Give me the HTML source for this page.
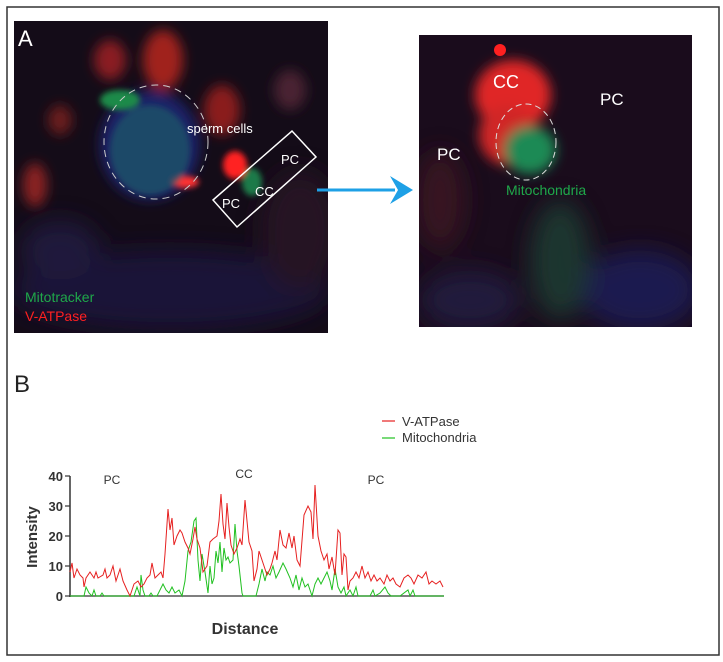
<!DOCTYPE html>
<html><head><meta charset="utf-8"><style>
body{margin:0;background:#fff;}
svg{display:block;font-family:"Liberation Sans",Arial,sans-serif;}
</style></head><body>
<svg width="723" height="662" viewBox="0 0 723 662" xmlns="http://www.w3.org/2000/svg">
<defs>
<filter id="b6" x="-50%" y="-50%" width="200%" height="200%"><feGaussianBlur stdDeviation="6"/></filter>
<filter id="b3" x="-50%" y="-50%" width="200%" height="200%"><feGaussianBlur stdDeviation="3"/></filter>
<filter id="b12" x="-50%" y="-50%" width="200%" height="200%"><feGaussianBlur stdDeviation="12"/></filter>
<clipPath id="cl"><rect x="14" y="21" width="314" height="312"/></clipPath>
<clipPath id="cr"><rect x="419" y="35" width="273" height="292"/></clipPath>
</defs>
<rect x="7" y="7" width="712" height="648" fill="#fff" stroke="#333" stroke-width="1.5"/>
<g clip-path="url(#cl)">
<rect x="14" y="21" width="314" height="312" fill="#140c18"/>
<g filter="url(#b12)" opacity="0.8">
<ellipse cx="170" cy="290" rx="160" ry="40" fill="#1b1840"/>
<ellipse cx="60" cy="250" rx="40" ry="30" fill="#201a45"/>
<ellipse cx="300" cy="230" rx="40" ry="60" fill="#2a1525"/>
</g>
<g filter="url(#b6)">
<ellipse cx="110" cy="60" rx="16" ry="20" fill="#8a1e22"/>
<ellipse cx="163" cy="60" rx="20" ry="30" fill="#a0201c"/>
<ellipse cx="222" cy="110" rx="18" ry="25" fill="#8a1a1a"/>
<ellipse cx="290" cy="90" rx="16" ry="20" fill="#4a2030"/>
<ellipse cx="60" cy="120" rx="12" ry="15" fill="#6a1a1a"/>
<ellipse cx="35" cy="185" rx="12" ry="22" fill="#8a2020"/>
<ellipse cx="150" cy="145" rx="50" ry="55" fill="#1a2468"/>
</g>
<g filter="url(#b3)">
<ellipse cx="235" cy="165" rx="12" ry="14" fill="#ff2020"/>
<ellipse cx="185" cy="182" rx="14" ry="6" fill="#ff3030"/>
<ellipse cx="150" cy="150" rx="40" ry="45" fill="#1c5a6a" opacity="0.7"/>
<ellipse cx="120" cy="100" rx="20" ry="10" fill="#1e8a48"/>
<ellipse cx="252" cy="182" rx="10" ry="14" fill="#1e7a4a"/>
</g>
<ellipse cx="156" cy="142" rx="52" ry="57" fill="none" stroke="#ccc" stroke-width="1" stroke-dasharray="7 5"/>
<text x="18" y="46" font-size="22" fill="#fff">A</text>
<text x="187" y="133" font-size="13" fill="#fff">sperm cells</text>
<polygon points="213,200 292,131 316,157 237,227" fill="none" stroke="#fff" stroke-width="1.5"/>
<text x="222" y="208" font-size="13" fill="#fff">PC</text>
<text x="255" y="196" font-size="13" fill="#fff">CC</text>
<text x="281" y="164" font-size="13" fill="#fff">PC</text>
<text x="25" y="302" font-size="14" fill="#1fa84a">Mitotracker</text>
<text x="25" y="321" font-size="14" fill="#ff2020">V-ATPase</text>
</g>
<line x1="317" y1="190" x2="395" y2="190" stroke="#1ea0e6" stroke-width="3"/>
<polygon points="390,176 413,190 390,204 398,190" fill="#1ea0e6"/>
<g clip-path="url(#cr)">
<rect x="419" y="35" width="273" height="292" fill="#1a0c1c"/>
<g filter="url(#b12)" opacity="0.9">
<ellipse cx="640" cy="290" rx="60" ry="40" fill="#1c1a55"/>
<ellipse cx="470" cy="300" rx="50" ry="30" fill="#221a40"/>
<ellipse cx="560" cy="260" rx="30" ry="60" fill="#1a3a30"/>
<ellipse cx="440" cy="200" rx="25" ry="50" fill="#3a1220"/>
</g>
<g filter="url(#b6)">
<ellipse cx="513" cy="95" rx="38" ry="35" fill="#e02828"/>
<ellipse cx="507" cy="135" rx="28" ry="30" fill="#d02626"/>
<ellipse cx="530" cy="150" rx="26" ry="24" fill="#1e8a55"/>
</g>
<circle cx="500" cy="50" r="6" fill="#ff2020"/>
<ellipse cx="526" cy="142" rx="30" ry="38" fill="none" stroke="#ddd" stroke-width="1" stroke-dasharray="6 4"/>
<text x="493" y="88" font-size="18" fill="#fff">CC</text>
<text x="600" y="105" font-size="17" fill="#fff">PC</text>
<text x="437" y="160" font-size="17" fill="#fff">PC</text>
<text x="506" y="195" font-size="14" fill="#1fa84a">Mitochondria</text>
</g>
<text x="14" y="392" font-size="24" fill="#222">B</text>
<line x1="382" y1="421" x2="395" y2="421" stroke="#e62020" stroke-width="1.2"/>
<line x1="382" y1="438" x2="395" y2="438" stroke="#20c020" stroke-width="1.2"/>
<text x="402" y="426" font-size="13" fill="#333">V-ATPase</text>
<text x="402" y="442" font-size="13" fill="#333">Mitochondria</text>
<line x1="70" y1="476" x2="70" y2="597" stroke="#333" stroke-width="1.5"/>
<line x1="69" y1="596" x2="444" y2="596" stroke="#555" stroke-width="1.5"/>
<g stroke="#333" stroke-width="1.2">
<line x1="65" y1="476" x2="70" y2="476"/><line x1="65" y1="506" x2="70" y2="506"/><line x1="65" y1="536" x2="70" y2="536"/><line x1="65" y1="566" x2="70" y2="566"/><line x1="65" y1="596" x2="70" y2="596"/>
</g>
<g font-size="13" font-weight="bold" fill="#333" text-anchor="end">
<text x="63" y="481">40</text><text x="63" y="511">30</text><text x="63" y="541">20</text><text x="63" y="571">10</text><text x="63" y="601">0</text>
</g>
<text transform="translate(37,537) rotate(-90)" font-size="15" font-weight="bold" fill="#333" text-anchor="middle">Intensity</text>
<text x="245" y="634" font-size="16" font-weight="bold" fill="#333" text-anchor="middle">Distance</text>
<text x="112" y="484" font-size="12" fill="#333" text-anchor="middle">PC</text>
<text x="244" y="478" font-size="12" fill="#333" text-anchor="middle">CC</text>
<text x="376" y="484" font-size="12" fill="#333" text-anchor="middle">PC</text>
<polyline fill="none" stroke="#20c020" stroke-width="1" points="70,596 84,596 86,587 89,593 92,596 94,590 96,596 100,596 102,593 104,596 130,596 134,596 137,587 140,596 141,575 143,590 145,596 149,596 151,593 153,596 157,596 160,590 163,584 166,590 169,593 172,587 175,593 179,590 182,596 185,581 188,551 191,542 194,521 196,518 198,560 200,581 202,554 205,572 208,593 210,566 212,584 214,578 216,551 218,563 220,542 222,572 224,548 226,560 228,557 230,563 233,560 235,524 237,551 239,566 242,593 243,596 256,596 259,584 262,569 265,581 267,572 270,575 273,566 276,578 279,572 283,563 286,569 290,578 293,587 296,575 299,590 302,578 305,587 308,584 312,596 315,584 318,578 321,584 324,578 327,572 330,581 332,590 335,569 338,587 341,593 344,587 346,596 350,590 353,596 356,587 358,596 370,596 373,590 375,596 380,593 385,587 388,593 391,596 400,596 408,590 410,596 413,590 415,596 444,596"/>
<polyline fill="none" stroke="#e62020" stroke-width="1" points="70,572 72,563 74,578 77,569 80,575 83,578 84,587 86,578 90,572 92,575 94,578 96,572 98,578 103,575 105,569 107,578 110,575 113,566 116,581 120,569 123,581 127,590 130,596 134,584 138,581 141,587 144,584 147,578 150,575 152,563 155,578 158,575 161,572 163,578 165,554 168,509 170,530 172,518 174,545 177,536 180,530 182,533 185,542 188,548 190,554 193,539 195,527 197,539 200,548 203,572 207,566 210,542 213,539 217,536 219,521 221,494 223,524 225,539 227,503 229,527 231,545 234,554 237,548 240,539 242,545 245,500 247,521 249,542 252,551 254,581 257,569 259,551 262,560 264,566 267,575 270,569 272,563 275,551 277,560 280,530 283,545 286,548 289,533 292,548 294,536 297,560 300,566 304,515 308,506 311,512 313,539 315,485 318,536 321,551 324,560 327,554 329,569 332,557 335,575 338,530 340,533 342,575 344,554 346,557 348,590 350,581 353,578 356,572 359,578 362,566 365,578 368,572 371,581 374,575 377,581 380,578 384,584 387,575 390,581 393,578 396,584 400,587 404,578 408,575 411,578 414,584 418,575 422,578 426,572 429,584 432,581 436,584 440,581 443,587"/>
</svg>
</body></html>
